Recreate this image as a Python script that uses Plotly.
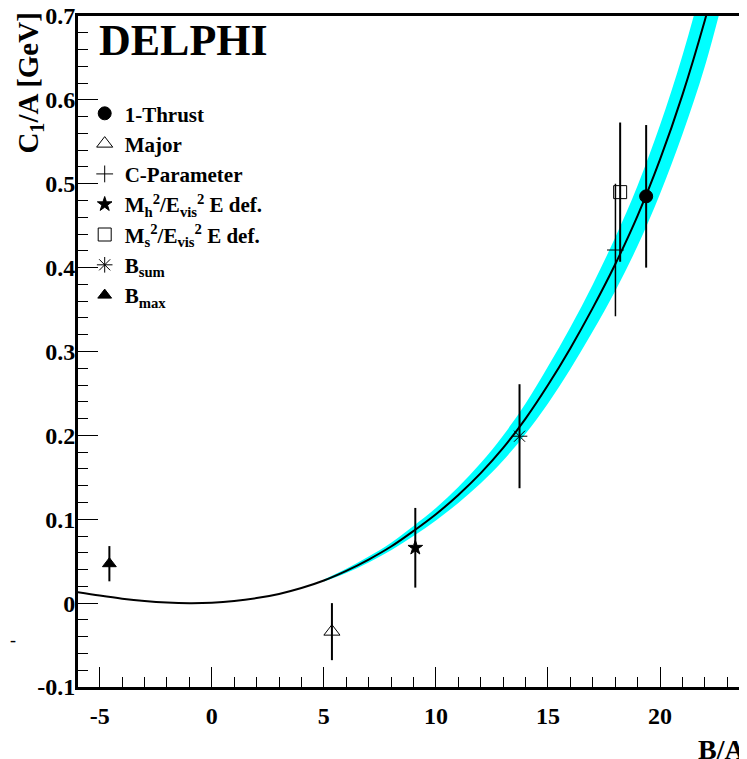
import plotly.graph_objects as go

# ---- data ----
names = ["1-Thrust", "Major", "C-Parameter",
         "M<sub>h</sub><sup>2</sup>/E<sub>vis</sub><sup>2</sup> E def.",
         "M<sub>s</sub><sup>2</sup>/E<sub>vis</sub><sup>2</sup> E def.",
         "B<sub>sum</sub>", "B<sub>max</sub>"]
x_vals = [19.38, 5.36, 18.01, 9.08, 18.22, 13.73, -4.57]
y_vals = [0.485, -0.034, 0.421, 0.066, 0.490, 0.199, 0.047]
y_errs = [0.085, 0.034, 0.079, 0.0475, 0.083, 0.062, 0.021]

curve_x = [-6, -5, -4, -3, -2, -1, 0, 1, 2, 3, 4, 5, 6, 7, 8, 9, 10, 11, 12,
           13, 14, 15, 16, 17, 18, 19, 20, 21, 22, 22.5]
curve_y = [0.0132, 0.0090, 0.0053, 0.0025, 0.0007, 0.0, 0.0005, 0.0025, 0.0060,
           0.0110, 0.0180, 0.0270, 0.0385, 0.0520, 0.0675, 0.0860, 0.1060, 0.1290,
           0.1550, 0.1850, 0.2200, 0.2600, 0.3040, 0.3520, 0.4040, 0.4620, 0.5290,
           0.6060, 0.6950, 0.7450]

band_x = [5, 6, 7, 8, 9, 10, 11, 12, 13, 14, 15, 16, 17, 18, 19, 20, 21, 22, 23]
band_hi = [0.0282, 0.0410, 0.0555, 0.0720, 0.0920, 0.1135, 0.1385, 0.167, 0.200,
           0.238, 0.282, 0.329, 0.380, 0.436, 0.498, 0.570, 0.653, 0.750, 0.860]
band_lo = [0.0258, 0.0360, 0.0485, 0.0630, 0.0800, 0.0985, 0.1195, 0.143, 0.170,
           0.202, 0.238, 0.279, 0.324, 0.372, 0.426, 0.488, 0.559, 0.640, 0.740]

x_tickvals = [-5, 0, 5, 10, 15, 20]
x_ticktext = ["-5", "0", "5", "10", "15", "20"]
y_tickvals = [-0.1, 0, 0.1, 0.2, 0.3, 0.4, 0.5, 0.6, 0.7]
y_ticktext = ["-0.1", "0", "0.1", "0.2", "0.3", "0.4", "0.5", "0.6", "0.7"]

# ---- styles ----
symbols = ["circle", "triangle-up-open", "cross-thin-open", "star",
           "square-open", "asterisk-open", "triangle-up"]
msizes = [13, 14, 12, 11, 13, 13, 12]
bar_w = [2, 2, 1.5, 2, 2, 2, 2]

SERIF = "Liberation Serif"

fig = go.Figure()

# uncertainty band
fig.add_trace(go.Scatter(x=band_x, y=band_hi, mode="lines",
                         line=dict(width=0, shape="spline", color="#00ffff"),
                         showlegend=False, hoverinfo="skip"))
fig.add_trace(go.Scatter(x=band_x, y=band_lo, mode="lines",
                         line=dict(width=0, shape="spline", color="#00ffff"),
                         fill="tonexty", fillcolor="#00ffff",
                         showlegend=False, hoverinfo="skip"))
# fit curve
fig.add_trace(go.Scatter(x=curve_x, y=curve_y, mode="lines",
                         line=dict(width=2, shape="spline", color="black"),
                         showlegend=False, hoverinfo="skip"))

for i, nm in enumerate(names):
    fig.add_trace(go.Scatter(
        x=[x_vals[i]], y=[y_vals[i]], mode="markers", name=nm,
        legendgroup=f"g{i}",
        marker=dict(symbol=symbols[i], size=msizes[i], color="black",
                    line=dict(width=1, color="black")),
        error_y=dict(type="data", array=[y_errs[i]], visible=True,
                     color="black", thickness=bar_w[i], width=0),
    ))

fig.update_layout(
    width=739, height=751,
    margin=dict(l=70, r=0, t=8, b=72, autoexpand=False),
    paper_bgcolor="white", plot_bgcolor="white",
    font=dict(family=SERIF, color="black", size=24, weight="bold"),
    showlegend=True,
    legend=dict(x=0.010, y=0.885, xanchor="left", yanchor="top",
                bgcolor="rgba(0,0,0,0)", borderwidth=0,
                font=dict(family=SERIF, size=21, color="black", weight="bold"),
                tracegroupgap=0, itemsizing="trace"),
)

fig.update_xaxes(
    range=[-5.97, 23.88], showgrid=False, zeroline=False, automargin=False,
    showline=True, linewidth=3, linecolor="black", mirror=True,
    ticks="inside", ticklen=20, tickwidth=1.3, tickcolor="black",
    tickmode="array", tickvals=x_tickvals, ticktext=x_ticktext,
    ticklabelstandoff=5, ticklabeloverflow="allow",
    tickfont=dict(family=SERIF, size=24, weight="bold"),
    minor=dict(ticks="inside", ticklen=10, tickwidth=1.3, tickcolor="black",
               tickmode="linear", dtick=1, tick0=0),
)
fig.update_yaxes(
    range=[-0.1, 0.7], showgrid=False, zeroline=False, automargin=False,
    showline=True, linewidth=3, linecolor="black",
    ticks="inside", ticklen=20, tickwidth=1.3, tickcolor="black",
    tickmode="array", tickvals=y_tickvals, ticktext=y_ticktext,
    ticklabelstandoff=-5, ticklabeloverflow="allow",
    tickfont=dict(family=SERIF, size=24, weight="bold"),
    minor=dict(ticks="inside", ticklen=10, tickwidth=1.3, tickcolor="black",
               tickmode="linear", dtick=0.02, tick0=0),
)

fig.add_annotation(text="DELPHI", xref="paper", yref="paper", x=0.157, y=0.963,
                   xanchor="center", yanchor="middle", showarrow=False,
                   font=dict(family=SERIF, size=44, weight="bold", color="black"))
fig.add_annotation(text="C<sub>1</sub>/A [GeV]", xref="paper", yref="paper",
                   x=-0.071, y=0.90, xanchor="center", yanchor="middle",
                   textangle=-90, showarrow=False,
                   font=dict(family=SERIF, size=29, weight="bold", color="black"))
fig.add_annotation(text="B/A", xref="paper", yref="paper", x=1.0, y=-0.0935,
                   xanchor="right", yanchor="middle", showarrow=False,
                   font=dict(family=SERIF, size=28, weight="bold", color="black"))
fig.add_annotation(text="-", xref="paper", yref="paper", x=-0.1046, y=0.0705,
                   xanchor="left", yanchor="middle", showarrow=False,
                   font=dict(family=SERIF, size=18, weight="normal", color="black"))

fig.write_html("out.html")
